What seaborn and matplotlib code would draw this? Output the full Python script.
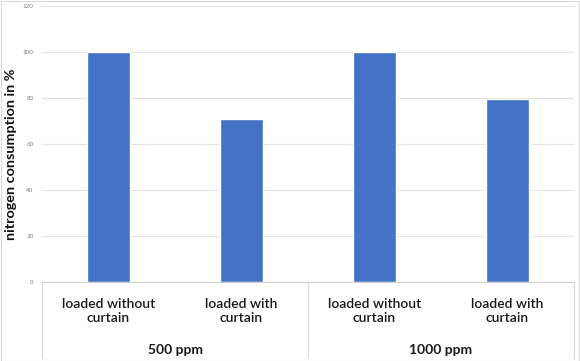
import matplotlib
matplotlib.use("Agg")
import matplotlib.pyplot as plt
import seaborn as sns
import pandas as pd
from matplotlib.transforms import blended_transform_factory

categories = ["loaded without\ncurtain", "loaded with\ncurtain", "loaded without\ncurtain", "loaded with\ncurtain"]
groups = ["500 ppm", "1000 ppm"]
values = [100, 70.7, 100, 79.7]
yticks = [0, 20, 40, 60, 80, 100, 120]

sns.set_theme(style="white")
plt.rcParams['font.family'] = ['Lato', 'DejaVu Sans']

df = pd.DataFrame({"pos": [0, 1, 2, 3], "val": values})

fig = plt.figure(figsize=(5.8, 3.61), dpi=100)
ax = fig.add_axes([42/580, 1-282/361, 532/580, 276/361])
sns.barplot(data=df, x="pos", y="val", color="#4472C4", width=0.32, saturation=1, ax=ax)
ax.set_xlim(-0.5, 3.5)
ax.set_ylim(0, 120)
ax.set_yticks(yticks)
ax.set_yticklabels([str(t) for t in yticks], fontsize=4.5, color="#7f7f7f")
ax.tick_params(axis='y', length=0, pad=6)
ax.set_xticks([])
ax.set_xlabel("")
ax.set_ylabel("nitrogen consumption in %", fontsize=10.4, fontweight="bold", color="#111111")
ax.yaxis.set_label_coords(-25/532, 0.464)
ax.yaxis.grid(True, color="#e3e3e3", linewidth=0.8)
ax.set_axisbelow(True)
for s in ["top", "right", "left"]:
    ax.spines[s].set_visible(False)
ax.spines["bottom"].set_color("#d0d0d0")
ax.spines["bottom"].set_linewidth(0.8)

tr = blended_transform_factory(ax.transData, ax.transAxes)
h = 276.0
for i, c in enumerate(categories):
    ax.text(i, -29/h, c, transform=tr, ha="center", va="center", multialignment="center",
            fontsize=10, fontweight="semibold", color="#1a1a1a", linespacing=1.2)
for g, gname in enumerate(groups):
    ax.text(2*g + 0.5, -68/h, gname, transform=tr, ha="center", va="center",
            fontsize=10, fontweight="bold", color="#1a1a1a")
for xp in [-0.5, 1.5, 3.5]:
    ax.plot([xp, xp], [0, -76/h], transform=tr, color="#d9d9d9", lw=0.8, clip_on=False)

fig.patches.append(plt.Rectangle((0.001, 0.001), 0.997, 0.997, transform=fig.transFigure,
                                 fill=False, edgecolor="#d9d9d9", lw=0.8))
fig.savefig("out.png", dpi=100)
